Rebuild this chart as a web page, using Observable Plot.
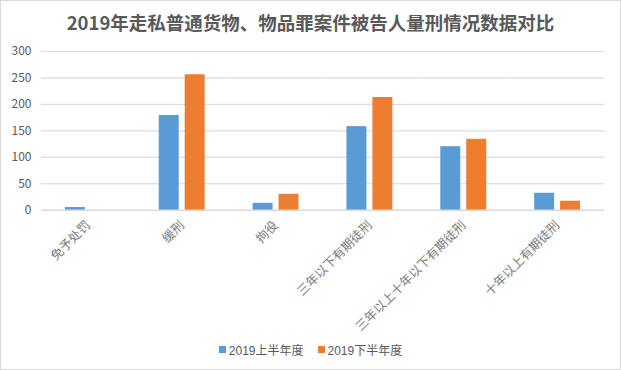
<!DOCTYPE html>
<html>
<head>
<meta charset="utf-8">
<script src="https://cdn.jsdelivr.net/npm/d3@7"></script>
<script src="https://cdn.jsdelivr.net/npm/@observablehq/plot@0.6"></script>
<style>
  html, body { margin: 0; padding: 0; background: #fff; }
  #frame { position: relative; width: 619px; height: 368px; border: 1px solid #d9d9d9; overflow: hidden; background: #fff;
           font-family: "Noto Sans CJK SC", "DejaVu Sans", sans-serif; }
  #title { position: absolute; left: 0; top: 8px; width: 619px; text-align: center; font-size: 18.5px; font-weight: 700; color: #595959; }
  #chart { position: absolute; left: -1px; top: 29px; }
  #chart [aria-label="fx-axis tick label"] { font-size: 12.5px; fill: #7a7a7a; }
  #chart [aria-label="y-axis tick label"] { fill: #595959; }
  #legend { position: absolute; left: 0; top: 340px; width: 619px; display: flex; justify-content: center; gap: 14px;
            font-size: 12px; color: #595959; font-family: "Liberation Sans", "Noto Sans CJK SC", sans-serif; }
  #legend span.item { display: flex; align-items: center; }
  #legend span.sw { display: inline-block; width: 7px; height: 7px; margin-right: 3px; }
</style>
</head>
<body>
<div id="frame">
  <div id="title">2019年走私普通货物、物品罪案件被告人量刑情况数据对比</div>
  <div id="chart"></div>
  <div id="legend"></div>
</div>
<script>
const categories = ["免予处罚", "缓刑", "拘役", "三年以下有期徒刑", "三年以上十年以下有期徒刑", "十年以上有期徒刑"];
const seriesNames = ["2019上半年度", "2019下半年度"];
const firstHalf = [5, 179, 13, 158, 120, 32];
const secondHalf = [0, 256, 30, 213, 134, 17];
const yTicks = [0, 50, 100, 150, 200, 250, 300];
const colors = ["#5b9bd5", "#ed7d31"];

const rows = [];
categories.forEach((c, i) => {
  rows.push({category: c, series: seriesNames[0], value: firstHalf[i]});
  rows.push({category: c, series: seriesNames[1], value: secondHalf[i]});
});

const chart = Plot.plot({
  width: 621,
  height: 310,
  marginLeft: 38,
  marginRight: 14,
  marginTop: 21,
  marginBottom: 130,
  style: {fontFamily: "'Noto Sans CJK SC', sans-serif", fontSize: "12px", color: "#595959", background: "transparent"},
  fx: {domain: categories, padding: 0, label: null, tickRotate: -45, tickSize: 0, tickPadding: 13},
  x: {domain: seriesNames, axis: null, paddingInner: 0.222, paddingOuter: 0.87},
  y: {domain: [0, 300], ticks: yTicks, grid: true, label: null, tickSize: 0, tickPadding: 10},
  color: {domain: seriesNames, range: colors},
  marks: [
    Plot.gridY(yTicks, {stroke: "#d9d9d9", strokeOpacity: 1, strokeWidth: 1}),
    Plot.barY(rows, {fx: "category", x: "series", y: "value", fill: "series"}),
    Plot.ruleY([0], {stroke: "#d9d9d9", strokeWidth: 1})
  ]
});
document.getElementById("chart").appendChild(chart);

const legend = document.getElementById("legend");
seriesNames.forEach((name, i) => {
  const item = document.createElement("span");
  item.className = "item";
  const sw = document.createElement("span");
  sw.className = "sw";
  sw.style.background = colors[i];
  item.appendChild(sw);
  item.appendChild(document.createTextNode(name));
  legend.appendChild(item);
});
</script>
</body>
</html>
